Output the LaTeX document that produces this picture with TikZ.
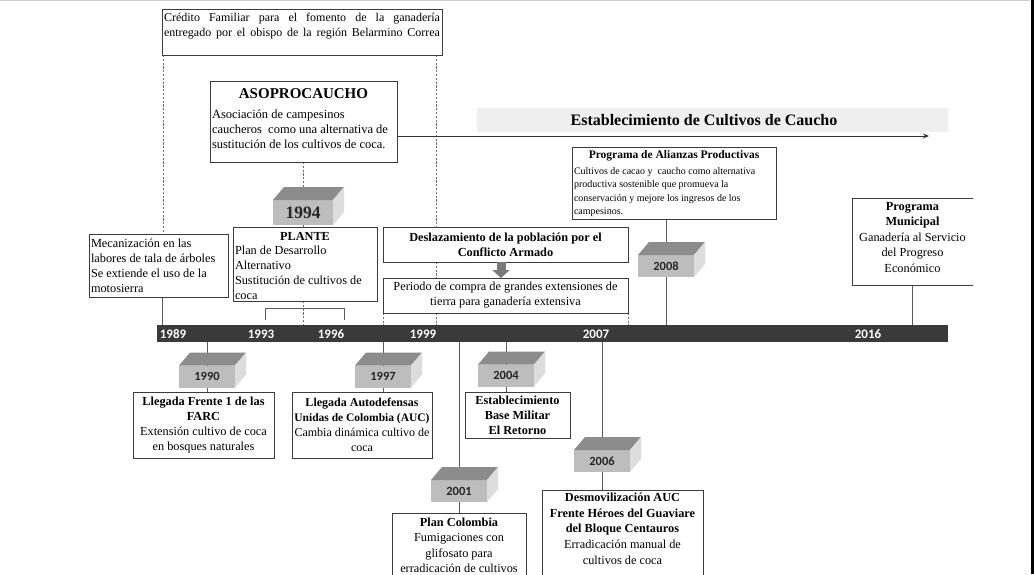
\documentclass[tikz,border=0pt]{standalone}
\usepackage{fontspec}
\setmainfont{Liberation Serif}
\newfontfamily\carl{Carlito}
\usetikzlibrary{arrows.meta,backgrounds}
\definecolor{boxc}{HTML}{3C3C3C}
\definecolor{linec}{HTML}{5A5A5A}
\definecolor{dashc}{HTML}{6E6E6E}
\definecolor{axisc}{HTML}{3A3A3A}
\definecolor{ffront}{HTML}{BDBDBD}
\definecolor{ftop}{HTML}{8C8C8C}
\definecolor{fside}{HTML}{DDDDDD}
\definecolor{bandc}{HTML}{EFEFEF}
\definecolor{garc}{HTML}{7A7A7A}
\definecolor{ytext}{HTML}{262626}
\newcommand{\tf}{\fontsize{12.3}{15}\selectfont}
\newcommand{\tbox}[7]{\node[box,anchor=north west] (#1) at (#2,#3) {\parbox[t][\dimexpr#5pt-#3pt\relax][#6]{\dimexpr#4pt-#2pt-4pt\relax}{#7}};}
\newcommand{\ycube}[5][]{%
  \node[yfront,#1] (#2) at (#3,#4) {#5};
  \fill[ftop] (#2.north west) -- ([shift={(11,-13)}]#2.north west) -- ([shift={(11,-13)}]#2.north east) -- (#2.north east) -- cycle;
  \fill[fside] (#2.north east) -- ([shift={(11,-13)}]#2.north east) -- ([shift={(11,-13)}]#2.south east) -- (#2.south east) -- cycle;}
\begin{document}
\begin{tikzpicture}[x=1pt,y=-1pt,
  box/.style={draw=boxc,line width=0.9pt,fill=white,inner xsep=2pt,inner ysep=0pt,outer sep=0pt},
  openbox/.style={draw=none,inner xsep=2pt,inner ysep=0pt,outer sep=0pt},
  boxline/.style={draw=boxc,line width=0.9pt},
  conn/.style={draw=linec,line width=0.9pt},
  dsh/.style={draw=dashc,line width=0.8pt,dash pattern=on 2.2pt off 1.6pt},
  yfront/.style={fill=ffront,minimum width=56pt,minimum height=22pt,inner sep=0pt,outer sep=0pt,text=ytext,font=\carl\bfseries\fontsize{12.5}{14}\selectfont},
  axlab/.style={text=white,inner sep=0pt,font=\carl\bfseries\fontsize{13}{15}\selectfont},
  garrow/.style={draw=garc,line width=9pt,-{Triangle[width=17pt,length=8pt]}},
  mainarrow/.style={draw=black!80,line width=1pt,-{Stealth[length=6pt,width=5pt]}},
]
\useasboundingbox (0,0) rectangle (1034,574);
\clip (0,0) rectangle (1034,574);

% band
\node[fill=bandc,minimum width=471pt,minimum height=24pt,inner sep=0pt] (band) at (712.5,120) {};
\node[font=\bfseries\fontsize{16}{18}\selectfont,inner sep=0pt] (bandtxt) at (704,120) {Establecimiento de Cultivos de Caucho};

% axis
\node[fill=axisc,minimum width=791pt,minimum height=17pt,inner sep=0pt,outer sep=0pt] (axis) at (552.5,333.5) {};
\node[axlab] (a1989) at (173,334) {1989};
\node[axlab] (a1993) at (261,334) {1993};
\node[axlab] (a1996) at (331,334) {1996};
\node[axlab] (a1999) at (423,334) {1999};
\node[axlab] (a2007) at (596,334) {2007};
\node[axlab] (a2016) at (868,334) {2016};

% text boxes
\tbox{credito}{162}{9}{442}{55}{t}{\fontsize{12}{15}\selectfont\vspace*{4pt}\makebox[\linewidth][s]{Crédito Familiar para el fomento de la ganadería}\\\makebox[\linewidth][s]{entregado por el obispo de la región Belarmino Correa}}
\tbox{asopro}{210}{81}{397}{162}{t}{\vspace*{8pt}\centering{\fontsize{15}{18}\selectfont\bfseries ASOPROCAUCHO\par}\vspace{5pt}\raggedright\fontsize{12.5}{15}\selectfont Asociación de campesinos\\caucheros\ \ como una alternativa de\\sustitución de los cultivos de coca.}
\tbox{mecan}{89}{234}{228}{297}{c}{\raggedright\tf Mecanización en las\\labores de tala de árboles\\Se extiende el uso de la\\motosierra}
\tbox{plante}{233}{227}{377}{301}{t}{\vspace*{5pt}\fontsize{12.3}{14.8}\selectfont\centering\textbf{PLANTE}\par\raggedright Plan de Desarrollo\\Alternativo\\Sustitución de cultivos de\\coca}
\tbox{desla}{383}{227}{628}{262}{c}{\centering\bfseries\tf Deslazamiento de la población por el\\Conflicto Armado}
\tbox{periodo}{383}{278}{628}{313}{c}{\centering\tf Periodo de compra de grandes extensiones de\\tierra para ganadería extensiva}
\tbox{alianzas}{572}{147}{776}{219}{t}{\vspace*{4pt}\centering{\fontsize{11.5}{13}\selectfont\bfseries Programa de Alianzas Productivas\par}\vspace{2pt}\raggedright\fontsize{10}{13.5}\selectfont Cultivos de cacao y\ \ caucho como alternativa\\productiva sostenible que promueva la\\conservación y mejore los ingresos de los\\campesinos.}
\node[openbox,anchor=north west] (municipal) at (852,198) {\parbox[t][87pt][t]{117pt}{\vspace*{4pt}\centering\fontsize{12.3}{15.5}\selectfont\textbf{Programa}\\\textbf{Municipal}\\Ganadería al Servicio\\del Progreso\\Económico}};
\draw[boxline] (municipal.north east) -- (municipal.north west) -- (municipal.south west) -- (municipal.south east);
\tbox{farc}{133}{392}{274}{458}{c}{\centering\tf\textbf{Llegada Frente 1 de las}\\\textbf{FARC}\\Extensión cultivo de coca\\en bosques naturales}
\tbox{auc}{292}{392}{432}{458}{c}{\centering\fontsize{12}{15}\selectfont\textbf{Llegada Autodefensas}\\{\fontsize{11.5}{15}\selectfont\bfseries Unidas de Colombia (AUC)}\\Cambia dinámica cultivo de\\coca}
\tbox{retorno}{465}{392}{570}{438}{c}{\centering\bfseries\tf Establecimiento\\Base Militar\\El Retorno}
\tbox{plancol}{392}{513}{526}{600}{t}{\vspace*{5pt}\centering\fontsize{12.3}{15.3}\selectfont\textbf{Plan Colombia}\\Fumigaciones con\\glifosato para\\erradicación de cultivos}
\tbox{desmov}{542}{490}{703}{600}{t}{\vspace*{3pt}\centering\fontsize{12.3}{15.7}\selectfont\textbf{Desmovilización AUC}\\\textbf{Frente Héroes del Guaviare}\\\textbf{del Bloque Centauros}\\Erradicación manual de\\cultivos de coca}

% year cubes
\ycube[minimum width=60pt,minimum height=25pt,font=\bfseries\fontsize{17.5}{20}\selectfont]{y1994}{303}{212.5}{1994}
\ycube{y1990}{207}{376.5}{1990}
\ycube{y1997}{383}{376.5}{1997}
\ycube{y2004}{506}{375.5}{2004}
\ycube{y2001}{459}{491}{2001}
\ycube{y2006}{602}{461}{2006}
\ycube{y2008}{666}{266}{2008}

% helper coordinates
\coordinate (rd) at (436,0);
\coordinate (mx) at (162,0);
\coordinate (ga) at (501,0);
\coordinate (arrowend) at (929,136);
\coordinate (br1) at (265,320);
\coordinate (br2) at (265,308);
\coordinate (br3) at (344,308);
\coordinate (br4) at (344,320);

% right border
\fill[black] (1030.5,0) rectangle (1034,574);

\begin{pgfonlayer}{background}
  \fill[white] (0,0) rectangle (1034,574);
  \draw[black!20,line width=1.2pt] (0,0.6) -- (1030,0.6);
  % dashed guides
  \draw[dsh] ([xshift=1pt]credito.south west) -- ([xshift=1pt]credito.south west |- mecan.north);
  \draw[dsh] (rd |- credito.south) -- (rd |- desla.north);
  \draw[dsh] (rd |- desla.south) -- (rd |- periodo.north);
  \draw[dsh] (rd |- periodo.south) -- (rd |- axis.north);
  \draw[dsh] (periodo.south west) -- (periodo.south west |- axis.north);
  \draw[dsh] (periodo.south east) -- (periodo.south east |- axis.north);
  \draw[dsh] (y1994.north |- asopro.south) -- (y1994.north);
  \draw[dsh] (y1994.south) -- (y1994.south |- plante.north);
  \draw[dsh] (y1994.south |- plante.south) -- (y1994.south |- axis.north);
  % solid connectors
  \draw[conn] (mx |- mecan.south) -- (mx |- axis.north);
  \draw[conn] (br1) -- (br2) -- (br3) -- (br4);
  \draw[conn] (y2008.north |- alianzas.south) -- (y2008.north);
  \draw[conn] (y2008.south) -- (y2008.south |- axis.north);
  \draw[conn] (municipal.south) -- (municipal.south |- axis.north);
  \draw[conn] (y1990.north |- axis.south) -- (y1990.north);
  \draw[conn] (y1990.south) -- (y1990.south |- farc.north);
  \draw[conn] (y1997.north |- axis.south) -- (y1997.north);
  \draw[conn] (y1997.south) -- (y1997.south |- auc.north);
  \draw[conn] (y2004.north |- axis.south) -- (y2004.north);
  \draw[conn] (y2004.south) -- (y2004.south |- retorno.north);
  \draw[conn] (y2001.north |- axis.south) -- (y2001.north);
  \draw[conn] (y2001.south) -- (y2001.south |- plancol.north);
  \draw[conn] (y2006.north |- axis.south) -- (y2006.north);
  \draw[conn] (y2006.south) -- (y2006.south |- desmov.north);
\end{pgfonlayer}

% arrows
\draw[mainarrow] (asopro.east |- arrowend) -- (arrowend);
\draw[garrow] (ga |- desla.south) -- (ga |- periodo.north);
\end{tikzpicture}
\end{document}
